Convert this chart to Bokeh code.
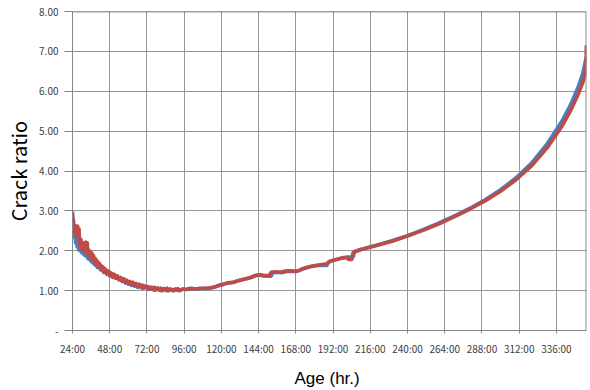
from bokeh.plotting import figure
from bokeh.models import Range1d, FixedTicker, Span
from bokeh.embed import file_html
from bokeh.resources import INLINE

# Crack ratio over curing age (hours)
blue_hours = [24.0, 24.4, 25, 25.5, 26, 26.5, 27, 27.5, 28, 28.5, 29, 29.5, 30, 30.5, 31, 31.5, 32, 32.5, 33, 33.5,
              34, 34.5, 35, 35.5, 36, 36.5, 37, 37.5, 38, 38.5, 39, 39.5, 40, 41, 42, 43, 44, 45, 46, 47,
              48, 49, 50, 51, 52, 53, 54, 55, 56, 57, 58, 59, 60, 61, 62, 63, 64, 65, 66, 67,
              69, 71, 73, 75, 77, 79, 81, 83, 85, 87, 89, 91, 93, 95, 98, 101, 104, 108,
              112, 115, 118, 121, 124, 127, 130, 133, 136, 139, 141, 144, 147, 150, 152, 153, 156, 159, 162, 165,
              168, 171, 174, 177, 180, 183, 186, 188, 189, 192, 195, 198, 201, 203, 205, 206, 208, 210,
              220, 230, 240, 250, 260, 270, 280, 290, 300, 310, 320, 330, 340, 345, 350, 353, 355.3]
blue_ratio = [2.90, 2.50, 2.35, 2.48, 2.20, 2.34, 2.10, 2.25, 2.02, 2.15, 2.00, 2.12, 1.95, 2.06, 1.92, 2.03, 1.88, 1.98, 1.86, 1.96,
              1.80, 1.90, 1.78, 1.86, 1.73, 1.82, 1.70, 1.78, 1.66, 1.74, 1.63, 1.70, 1.58, 1.66, 1.52, 1.58, 1.46, 1.53, 1.41, 1.47,
              1.37, 1.43, 1.33, 1.38, 1.31, 1.35, 1.27, 1.32, 1.23, 1.27, 1.19, 1.24, 1.16, 1.21, 1.13, 1.17, 1.11, 1.15, 1.08, 1.12,
              1.06, 1.10, 1.03, 1.07, 1.01, 1.06, 1.00, 1.05, 1.00, 1.04, 1.01, 1.04, 1.00, 1.04, 1.03, 1.05, 1.04, 1.05,
              1.06, 1.08, 1.12, 1.15, 1.19, 1.20, 1.24, 1.27, 1.30, 1.33, 1.37, 1.39, 1.37, 1.36, 1.36, 1.44, 1.46, 1.45, 1.48, 1.49,
              1.48, 1.52, 1.56, 1.60, 1.62, 1.64, 1.63, 1.63, 1.72, 1.76, 1.79, 1.82, 1.84, 1.84, 1.85, 1.98, 2.01, 2.03,
              2.14, 2.25, 2.38, 2.53, 2.69, 2.87, 3.06, 3.28, 3.53, 3.83, 4.20, 4.68, 5.28, 5.65, 6.10, 6.45, 6.86]

red_hours = [24.0, 24.3, 24.6, 25.0, 25.5, 26.0, 26.5, 27.0, 27.3, 27.8, 28.2, 28.6, 29.0, 29.5, 30.0, 30.5, 31.0, 31.5, 32.0, 32.5,
             33.0, 33.5, 34.0, 34.5, 35.0, 35.5, 36.0, 36.5, 37.0, 37.5, 38.0, 38.5, 39.0, 39.5, 40, 40.5, 41, 41.5, 42, 42.5,
             43, 43.5, 44, 44.5, 45, 45.5, 46, 46.5, 47, 47.5, 48, 48.5, 49, 49.5, 50, 51, 52, 53, 54, 55,
             56, 57, 58, 59, 60, 61, 62, 63, 64, 65, 66, 67, 68, 69, 70, 71, 72, 73, 74, 75,
             76, 77, 78, 79, 80, 81, 82, 83, 84, 85, 86, 87, 88, 89, 90, 91, 92, 93, 95, 97, 100, 103, 106, 110, 113,
             116, 119, 122, 125, 128, 131, 134, 137, 140, 142, 145, 148, 151, 152, 155, 158, 161, 164, 167, 170,
             172, 175, 178, 181, 184, 186, 188, 190, 193, 196, 199, 201, 202, 204, 205, 208, 210,
             220, 230, 240, 250, 260, 270, 280, 290, 300, 310, 320, 330, 340, 345, 350, 353, 355.1, 355.3]
red_ratio = [2.98, 2.60, 2.78, 2.45, 2.64, 2.40, 2.58, 2.42, 2.62, 2.35, 2.55, 2.20, 2.10, 2.28, 2.05, 2.20, 2.02, 2.18, 1.98, 2.22,
             2.10, 2.20, 1.92, 2.02, 1.86, 1.98, 1.82, 1.94, 1.78, 1.88, 1.72, 1.82, 1.68, 1.77, 1.62, 1.72, 1.60, 1.68, 1.56, 1.63,
             1.52, 1.60, 1.49, 1.56, 1.46, 1.53, 1.43, 1.50, 1.42, 1.48, 1.38, 1.45, 1.37, 1.43, 1.34, 1.41, 1.31, 1.37, 1.28, 1.33,
             1.24, 1.30, 1.21, 1.26, 1.18, 1.23, 1.16, 1.21, 1.13, 1.18, 1.11, 1.16, 1.09, 1.14, 1.07, 1.12, 1.06, 1.10, 1.04, 1.09,
             1.03, 1.08, 1.02, 1.07, 1.01, 1.06, 1.00, 1.05, 1.01, 1.06, 1.00, 1.04, 1.01, 0.99, 1.04, 1.01, 1.05, 1.00, 1.04, 1.03, 1.06, 1.04, 1.06, 1.06, 1.07,
             1.10, 1.14, 1.17, 1.20, 1.21, 1.25, 1.28, 1.31, 1.34, 1.38, 1.40, 1.38, 1.38, 1.46, 1.47, 1.46, 1.49, 1.50, 1.49, 1.50,
             1.55, 1.58, 1.61, 1.63, 1.65, 1.66, 1.67, 1.73, 1.77, 1.80, 1.83, 1.82, 1.78, 1.78, 1.96, 2.00, 2.03,
             2.13, 2.24, 2.37, 2.51, 2.67, 2.85, 3.04, 3.25, 3.49, 3.78, 4.13, 4.58, 5.15, 5.50, 5.92, 6.22, 6.50, 7.15]

x_ticks = [24, 48, 72, 96, 120, 144, 168, 192, 216, 240, 264, 288, 312, 336]
x_tick_labels = ["24:00", "48:00", "72:00", "96:00", "120:00", "144:00", "168:00",
                 "192:00", "216:00", "240:00", "264:00", "288:00", "312:00", "336:00"]
y_ticks = [0, 1, 2, 3, 4, 5, 6, 7, 8]
y_tick_labels = ["-", "1.00", "2.00", "3.00", "4.00", "5.00", "6.00", "7.00", "8.00"]

GRID = "#969696"
LABEL_FONT = "Noto Sans CJK KR"

p = figure(width=590, height=390, output_backend="svg", toolbar_location=None,
           x_range=Range1d(24, 355.4), y_range=Range1d(0, 8),
           min_border_left=72, min_border_right=4, min_border_top=11, min_border_bottom=57)
p.outline_line_color = None
p.background_fill_color = "white"
p.border_fill_color = "white"

# axes
p.xaxis.ticker = FixedTicker(ticks=x_ticks)
p.xaxis.major_label_overrides = dict(zip(x_ticks, x_tick_labels))
p.yaxis.ticker = FixedTicker(ticks=y_ticks)
p.yaxis.major_label_overrides = dict(zip(y_ticks, y_tick_labels))
for ax in (p.xaxis, p.yaxis):
    ax.axis_line_color = "#868686"
    ax.axis_line_width = 1
    ax.major_tick_line_color = "#868686"
    ax.minor_tick_line_color = None
    ax.major_tick_in = 0
    ax.major_label_text_font = LABEL_FONT
    ax.major_label_text_font_size = "10px"
    ax.major_label_text_color = "#404040"
p.xaxis.major_tick_out = 3
p.xaxis.major_label_standoff = 7
p.yaxis.major_tick_out = 8
p.yaxis.major_label_standoff = 6

p.xaxis.axis_label = "Age  (hr.)"
p.xaxis.axis_label_text_font = "Liberation Sans"
p.xaxis.axis_label_text_font_size = "17px"
p.xaxis.axis_label_text_font_style = "normal"
p.xaxis.axis_label_text_color = "#000000"
p.xaxis.axis_label_standoff = 10

p.yaxis.axis_label = "Crack ratio"
p.yaxis.axis_label_text_font = LABEL_FONT
p.yaxis.axis_label_text_font_size = "20px"
p.yaxis.axis_label_text_font_style = "normal"
p.yaxis.axis_label_text_color = "#000000"
p.yaxis.axis_label_standoff = 3

# grid
p.xgrid.ticker = FixedTicker(ticks=x_ticks)
p.ygrid.ticker = FixedTicker(ticks=y_ticks)
p.xgrid.grid_line_color = GRID
p.ygrid.grid_line_color = GRID
p.xgrid.grid_line_width = 1
p.ygrid.grid_line_width = 1

# plot-area border: dark top edge, grey right edge
p.add_layout(Span(location=8, dimension="width", line_color="#404040", line_width=1.5))
p.add_layout(Span(location=355.4, dimension="height", line_color="#8c8c8c", line_width=2))

# series
p.line(blue_hours, blue_ratio, line_color="#4a7ebb", line_width=3.6, line_join="round")
p.line(red_hours, red_ratio, line_color="#be4b48", line_width=3.6, line_join="round")

open("out.html", "w").write(file_html(p, INLINE))
